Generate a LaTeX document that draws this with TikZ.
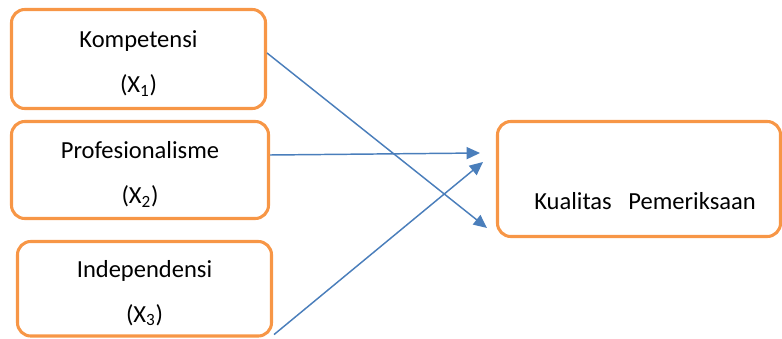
\documentclass[tikz,border=0pt]{standalone}
\usepackage{fontspec}
\setmainfont{Carlito}
\usetikzlibrary{arrows.meta, calc}
\definecolor{boxorange}{HTML}{F79646}
\definecolor{arrowblue}{HTML}{4A7EBB}
\newcommand{\topgap}[1]{\rule{0pt}{#1}}

\begin{document}
\begin{tikzpicture}[x=0.75pt, y=-0.75pt,
    var/.style={draw=boxorange, line width=2.3pt, rounded corners=10pt, align=center, inner sep=0pt,
        font=\fontsize{18.4}{33.75}\selectfont},
    link/.style={arrowblue, line width=1.1pt, -{Triangle[length=10pt, width=9pt]}}]
    \useasboundingbox (0,0) rectangle (782,339);

    % Independent variables
    \node[var, minimum width=190.5pt, minimum height=74.25pt] (kom) at (138.5,59) {\topgap{19.5pt}Kompetensi\\(X\textsubscript{1})};
    \node[var, minimum width=192.75pt, minimum height=72.75pt] (pro) at (140,170) {\topgap{19.5pt}Profesionalisme\\(X\textsubscript{2})};
    \node[var, minimum width=190.5pt, minimum height=70.9pt] (ind) at (144.5,288.75) {\topgap{19.5pt}Independensi\\(X\textsubscript{3})};

    % Dependent variable
    \node[var, minimum width=212.25pt, minimum height=86.25pt] (kua) at (639,179) {\hspace*{9pt}\topgap{46.5pt}Kualitas~~~Pemeriksaan};

    % Arrow ends (short of the box)
    \coordinate (t1) at (487,228);
    \coordinate (t2) at (480,153);
    \coordinate (t3) at (483,162);

    % Arrows
    \draw[link] ($(kom.east)+(0,-6)$) -- (t1);
    \draw[link] ($(pro.east)+(0,-15)$) -- (t2);
    \draw[link] ($(ind.south east)+(1,-3)$) -- (t3);

\end{tikzpicture}
\end{document}
